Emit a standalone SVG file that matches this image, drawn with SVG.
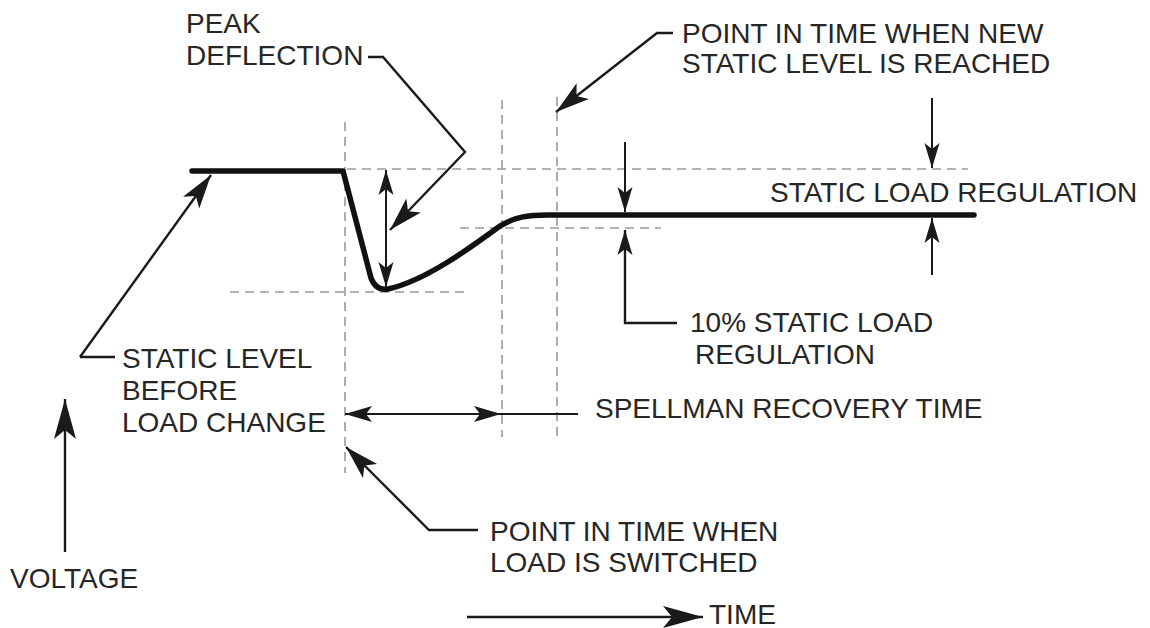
<svg xmlns="http://www.w3.org/2000/svg" width="1150" height="628" viewBox="0 0 1150 628">
<style>
text{font-family:"Liberation Sans",Arial,sans-serif;font-size:28px;fill:#262626}
.lead{fill:none;stroke:#1a1a1a;stroke-width:2.4;stroke-linejoin:miter}
.thin{fill:none;stroke:#1a1a1a;stroke-width:2}
.dash{fill:none;stroke:#999;stroke-width:1.6;stroke-dasharray:9 6}
.curve{fill:none;stroke:#111;stroke-width:5.5;stroke-linecap:round;stroke-linejoin:round}
</style>
<defs>
<marker id="xl" markerUnits="userSpaceOnUse" markerWidth="42" markerHeight="24" refX="40" refY="11" orient="auto" overflow="visible">
<path d="M0,0 L40,11 L0,22 L9,11 Z" fill="#1a1a1a"/>
</marker>
<marker id="big" markerUnits="userSpaceOnUse" markerWidth="36" markerHeight="20" refX="34" refY="10" orient="auto" overflow="visible">
<path d="M0,0 L34,10 L0,20 L8,10 Z" fill="#1a1a1a"/>
</marker>
<marker id="sm" markerUnits="userSpaceOnUse" markerWidth="26" markerHeight="16" refX="25" refY="7.5" orient="auto-start-reverse" overflow="visible">
<path d="M0,0 L25,7.5 L0,15 L6,7.5 Z" fill="#1a1a1a"/>
</marker>
<marker id="smS" markerUnits="userSpaceOnUse" markerWidth="28" markerHeight="18" refX="27" refY="8" orient="auto-start-reverse" overflow="visible">
<path d="M0,0 L27,8 L0,16 L6,8 Z" fill="#1a1a1a"/>
</marker>
</defs>

<g id="guides">
<path class="dash" d="M345,122 V473"/>
<path class="dash" d="M502,100 V437"/>
<path class="dash" d="M557,97 V437"/>
<path class="dash" d="M347,169 H968"/>
<path class="dash" d="M460,228 H661"/>
<path class="dash" d="M230,292 H466"/>
</g>

<g id="waveform">
<path class="curve" d="M192,171 L343,171 L371,278 Q376,291 388,289 C425,281 470,248 500,226 C515,217 527,215 548,215 L974,215"/>
</g>

<g id="connectors">
<path class="lead" d="M80,357 H115" />
<path class="lead" d="M80,357 L211,175" marker-end="url(#big)"/>
<path class="lead" d="M368,57 H383 L465,152 L390,230" marker-end="url(#big)"/>
<path class="thin" d="M386,170 V287" marker-start="url(#sm)" marker-end="url(#sm)"/>
<path class="lead" d="M673,33 H657 L556,112" marker-end="url(#big)"/>
<path class="thin" d="M932,98 V168" marker-end="url(#sm)"/>
<path class="thin" d="M932,275 V218" marker-end="url(#sm)"/>
<path class="thin" d="M625,142 V212" marker-end="url(#sm)"/>
<path class="lead" d="M677,323 H625 V230" marker-end="url(#sm)"/>
<path class="thin" d="M345,414 H501" marker-start="url(#smS)" marker-end="url(#smS)"/>
<path class="thin" d="M501,414 H578"/>
<path class="lead" d="M478,530 H429 L346,447" marker-end="url(#big)"/>
<path class="lead" d="M65,552 V399" marker-end="url(#xl)"/>
<path class="lead" d="M467,617 H703" marker-end="url(#xl)"/>
</g>

<g id="peak-deflection"><text x="186" y="33">PEAK</text><text x="186" y="65">DEFLECTION</text></g>
<g id="new-static-level"><text x="682" y="43">POINT IN TIME WHEN NEW</text><text x="682" y="73">STATIC LEVEL IS REACHED</text></g>
<g id="static-load-regulation"><text x="770" y="202">STATIC LOAD REGULATION</text></g>
<g id="ten-percent"><text x="690" y="332">10% STATIC LOAD</text><text x="695" y="364">REGULATION</text></g>
<g id="static-level-before"><text x="122" y="368">STATIC LEVEL</text><text x="122" y="400">BEFORE</text><text x="122" y="432">LOAD CHANGE</text></g>
<g id="recovery-time"><text x="595" y="418">SPELLMAN RECOVERY TIME</text></g>
<g id="load-switched"><text x="490" y="541">POINT IN TIME WHEN</text><text x="490" y="572">LOAD IS SWITCHED</text></g>
<g id="voltage"><text x="10" y="588">VOLTAGE</text></g>
<g id="time"><text x="709" y="624">TIME</text></g>
</svg>
